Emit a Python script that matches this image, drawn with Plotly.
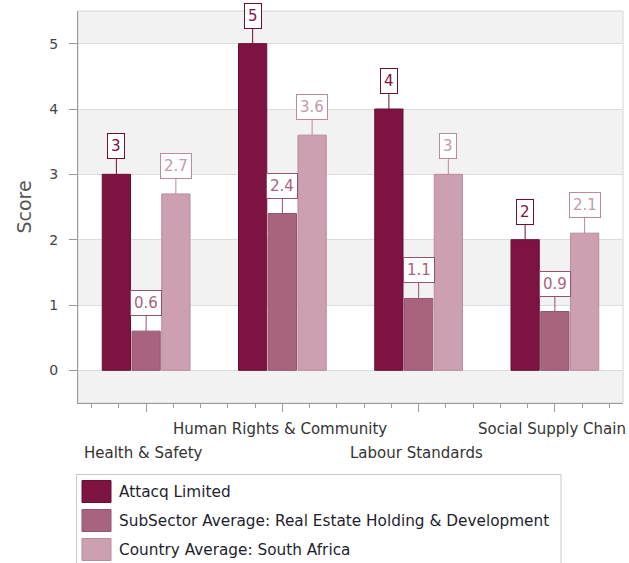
import plotly.graph_objects as go

# ---- data ----
categories = ["Health & Safety", "Human Rights & Community", "Labour Standards", "Social Supply Chain"]
attacq = [3, 5, 4, 2]
subsector = [0.6, 2.4, 1.1, 0.9]
country = [2.7, 3.6, 3, 2.1]
series_names = ["Attacq Limited",
                "SubSector Average: Real Estate Holding & Development",
                "Country Average: South Africa"]
y_ticks = [0, 1, 2, 3, 4, 5]

# ---- styles ----
fills = ["#7C1340", "#A8637E", "#CC9FB1"]
borders = ["#6B0F37", "#935370", "#B98B9D"]
label_colors = ["#7C1340", "#A8637E", "#C49AAC"]
FONT = "DejaVu Sans"
W, H = 629, 563
L, R, T, B = 78, 6, 11, 160
PW, PH = W - L - R, H - T - B

def px(xp):
    return (xp - L) / PW

def py(yp):
    return (H - B - yp) / PH

BARGAP, GROUPGAP = 0.345, 0.05
x_idx = list(range(len(categories)))
series = [attacq, subsector, country]

fig = go.Figure()
for k, (name, vals) in enumerate(zip(series_names, series)):
    fig.add_trace(go.Bar(
        x=x_idx, y=vals, name=name,
        marker=dict(color=fills[k], line=dict(color=borders[k], width=1)),
        showlegend=False,
    ))

annotations = []
slot = (1 - BARGAP) / 3
for k, vals in enumerate(series):
    for i, v in enumerate(vals):
        annotations.append(dict(
            x=i + (k - 1) * slot, y=v, xref="x", yref="y",
            text=f"{v:g}", showarrow=True, arrowhead=0, arrowwidth=1,
            arrowcolor=borders[k], ax=0, ay=-28,
            bgcolor="white", bordercolor=borders[k], borderwidth=1, borderpad=3,
            font=dict(family=FONT, size=15, color=label_colors[k]),
        ))

# category labels (staggered)
for i, c in enumerate(categories):
    annotations.append(dict(
        x=i, xref="x", y=py(429 if i % 2 else 453), yref="paper", xshift=-2.5,
        text=c, showarrow=False, xanchor="center", yanchor="middle",
        font=dict(family=FONT, size=15, color="#333333"),
    ))

shapes = []
# alternating bands
band_edges = [-0.5] + y_ticks + [5.5]
for j in range(len(band_edges) - 1):
    if j % 2 == 0:
        shapes.append(dict(type="rect", xref="paper", yref="y", x0=0, x1=1,
                           y0=band_edges[j], y1=band_edges[j + 1],
                           fillcolor="#F2F2F2", line=dict(width=0), layer="below"))
# plot border (top/right light)
shapes.append(dict(type="rect", xref="paper", yref="paper", x0=0, x1=1, y0=0, y1=1,
                   line=dict(color="#D6D6D6", width=1), layer="below"))

# custom legend
shapes.append(dict(type="rect", xref="paper", yref="paper",
                   x0=px(76.5), x1=px(561), y0=py(600), y1=py(474.5),
                   line=dict(color="#C8C8C8", width=1), fillcolor="white"))
row_c = [491.5, 520.5, 549.5]
for k, name in enumerate(series_names):
    shapes.append(dict(type="rect", xref="paper", yref="paper",
                       x0=px(82), x1=px(111), y0=py(row_c[k] + 11), y1=py(row_c[k] - 11),
                       fillcolor=fills[k], line=dict(color=borders[k], width=1)))
    annotations.append(dict(x=px(117), y=py(row_c[k]), xref="paper", yref="paper",
                            text=name, showarrow=False, xanchor="left", yanchor="middle",
                            font=dict(family=FONT, size=15.3, color="#1E1E2C")))

fig.update_layout(
    width=W, height=H, autosize=False,
    margin=dict(l=L, r=R, t=T, b=B),
    paper_bgcolor="white", plot_bgcolor="white",
    barmode="group", bargap=BARGAP, bargroupgap=GROUPGAP,
    font=dict(family=FONT, color="#444444"),
    shapes=shapes, annotations=annotations,
    xaxis=dict(range=[-0.5, 3.5], tickmode="array", tickvals=x_idx,
               ticktext=[""] * len(x_idx), automargin=False,
               ticks="outside", ticklen=8, tickcolor="#9A9A9A",
               minor=dict(ticks="outside", ticklen=4, dtick=0.2, tick0=0,
                          tickcolor="#9A9A9A", showgrid=False),
               showgrid=False, zeroline=False, showline=True, linecolor="#9A9A9A",
               fixedrange=True),
    yaxis=dict(range=[-0.5, 5.5], tickmode="array", tickvals=y_ticks,
               automargin=False,
               ticks="outside", ticklen=8, tickcolor="#9A9A9A",
               ticklabelstandoff=8,
               tickfont=dict(family=FONT, size=14, color="#444444"),
               showgrid=True, gridcolor="#DCDCDC", gridwidth=1,
               zeroline=False, showline=True, linecolor="#9A9A9A",
               title=dict(text="Score", font=dict(family=FONT, size=19, color="#555555"),
                          standoff=12),
               fixedrange=True),
)

fig.write_html("out.html", config={"displayModeBar": False},
               post_script="document.body.style.margin='0';document.body.style.padding='0';")
